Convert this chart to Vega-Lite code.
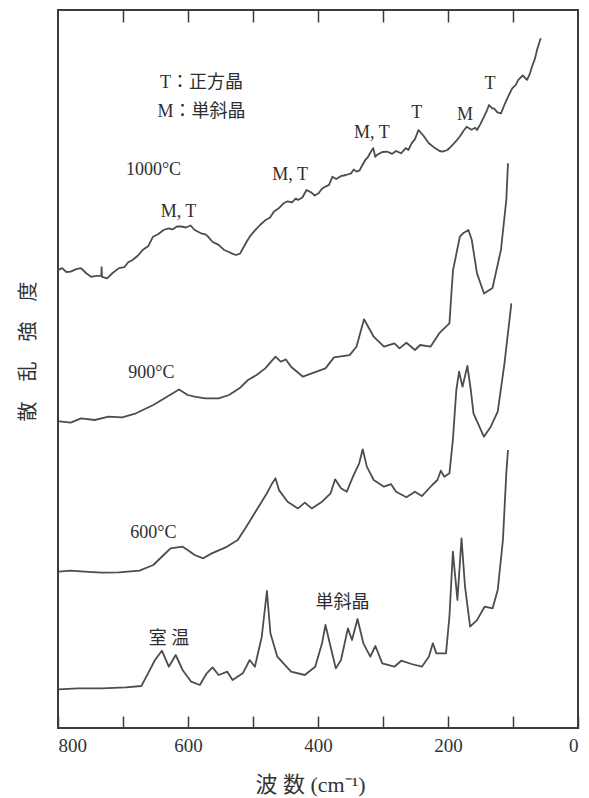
{
  "$schema": "https://vega.github.io/schema/vega-lite/v6.json",
  "width": 520,
  "height": 718,
  "autosize": {"type": "none"},
  "padding": {"left": 58, "top": 10, "right": 11, "bottom": 70},
  "background": "white",
  "config": {
    "view": {"stroke": "#3c3c3c", "strokeWidth": 2},
    "font": "Liberation Serif, Noto Sans CJK JP",
    "axis": {"labelFont": "Liberation Serif", "titleFont": "Liberation Serif, Noto Sans CJK JP"}
  },
  "datasets": {
    "spectra": [
      {"sample": "1000", "wavenumber": 800, "intensity": 457.9},
      {"sample": "1000", "wavenumber": 793.8, "intensity": 459.9},
      {"sample": "1000", "wavenumber": 787, "intensity": 456.0},
      {"sample": "1000", "wavenumber": 780.5, "intensity": 456.4},
      {"sample": "1000", "wavenumber": 772, "intensity": 458.9},
      {"sample": "1000", "wavenumber": 764.6, "intensity": 459.9},
      {"sample": "1000", "wavenumber": 757, "intensity": 455.0},
      {"sample": "1000", "wavenumber": 749.2, "intensity": 451.2},
      {"sample": "1000", "wavenumber": 741, "intensity": 452.1},
      {"sample": "1000", "wavenumber": 733.5, "intensity": 452.1},
      {"sample": "1000", "wavenumber": 732.9, "intensity": 460.8},
      {"sample": "1000", "wavenumber": 732.3, "intensity": 451.2},
      {"sample": "1000", "wavenumber": 724.6, "intensity": 449.7},
      {"sample": "1000", "wavenumber": 716, "intensity": 455.0},
      {"sample": "1000", "wavenumber": 706.2, "intensity": 459.9},
      {"sample": "1000", "wavenumber": 698, "intensity": 460.8},
      {"sample": "1000", "wavenumber": 692, "intensity": 465.7},
      {"sample": "1000", "wavenumber": 685.2, "intensity": 468.0},
      {"sample": "1000", "wavenumber": 677, "intensity": 472.5},
      {"sample": "1000", "wavenumber": 669.2, "intensity": 478.3},
      {"sample": "1000", "wavenumber": 661, "intensity": 482.1},
      {"sample": "1000", "wavenumber": 653.8, "intensity": 491.3},
      {"sample": "1000", "wavenumber": 646, "intensity": 493.7},
      {"sample": "1000", "wavenumber": 637.5, "intensity": 498.0},
      {"sample": "1000", "wavenumber": 630, "intensity": 499.6},
      {"sample": "1000", "wavenumber": 624, "intensity": 498.6},
      {"sample": "1000", "wavenumber": 617, "intensity": 501.5},
      {"sample": "1000", "wavenumber": 610.8, "intensity": 501.5},
      {"sample": "1000", "wavenumber": 603, "intensity": 500.5},
      {"sample": "1000", "wavenumber": 596, "intensity": 502.5},
      {"sample": "1000", "wavenumber": 589.8, "intensity": 498.0},
      {"sample": "1000", "wavenumber": 580, "intensity": 494.7},
      {"sample": "1000", "wavenumber": 573, "intensity": 493.7},
      {"sample": "1000", "wavenumber": 569.2, "intensity": 491.3},
      {"sample": "1000", "wavenumber": 562, "intensity": 486.0},
      {"sample": "1000", "wavenumber": 552.8, "intensity": 483.1},
      {"sample": "1000", "wavenumber": 545, "intensity": 478.3},
      {"sample": "1000", "wavenumber": 538, "intensity": 476.3},
      {"sample": "1000", "wavenumber": 532, "intensity": 474.4},
      {"sample": "1000", "wavenumber": 526.2, "intensity": 473.0},
      {"sample": "1000", "wavenumber": 520, "intensity": 474.4},
      {"sample": "1000", "wavenumber": 515.4, "intensity": 479.7},
      {"sample": "1000", "wavenumber": 510, "intensity": 486.0},
      {"sample": "1000", "wavenumber": 505.1, "intensity": 491.3},
      {"sample": "1000", "wavenumber": 497, "intensity": 497.6},
      {"sample": "1000", "wavenumber": 489.2, "intensity": 503.0},
      {"sample": "1000", "wavenumber": 480, "intensity": 508.3},
      {"sample": "1000", "wavenumber": 474, "intensity": 510.2},
      {"sample": "1000", "wavenumber": 468, "intensity": 516.3},
      {"sample": "1000", "wavenumber": 460, "intensity": 519.9},
      {"sample": "1000", "wavenumber": 453, "intensity": 524.7},
      {"sample": "1000", "wavenumber": 446.8, "intensity": 526.7},
      {"sample": "1000", "wavenumber": 440, "intensity": 525.7},
      {"sample": "1000", "wavenumber": 434, "intensity": 529.6},
      {"sample": "1000", "wavenumber": 430.8, "intensity": 528.0},
      {"sample": "1000", "wavenumber": 424, "intensity": 530.5},
      {"sample": "1000", "wavenumber": 417.7, "intensity": 538.0},
      {"sample": "1000", "wavenumber": 410, "intensity": 535.4},
      {"sample": "1000", "wavenumber": 405, "intensity": 532.5},
      {"sample": "1000", "wavenumber": 399.1, "intensity": 534.7},
      {"sample": "1000", "wavenumber": 394, "intensity": 539.2},
      {"sample": "1000", "wavenumber": 388.5, "intensity": 541.4},
      {"sample": "1000", "wavenumber": 383, "intensity": 543.1},
      {"sample": "1000", "wavenumber": 377.8, "intensity": 551.3},
      {"sample": "1000", "wavenumber": 372, "intensity": 548.9},
      {"sample": "1000", "wavenumber": 365, "intensity": 551.8},
      {"sample": "1000", "wavenumber": 356.9, "intensity": 553.0},
      {"sample": "1000", "wavenumber": 349, "intensity": 554.7},
      {"sample": "1000", "wavenumber": 345, "intensity": 558.6},
      {"sample": "1000", "wavenumber": 340.8, "intensity": 556.4},
      {"sample": "1000", "wavenumber": 336, "intensity": 557.6},
      {"sample": "1000", "wavenumber": 332.9, "intensity": 561.5},
      {"sample": "1000", "wavenumber": 328, "intensity": 567.3},
      {"sample": "1000", "wavenumber": 323, "intensity": 571.2},
      {"sample": "1000", "wavenumber": 320, "intensity": 574.7},
      {"sample": "1000", "wavenumber": 315, "intensity": 579.9},
      {"sample": "1000", "wavenumber": 312, "intensity": 571.2},
      {"sample": "1000", "wavenumber": 309.2, "intensity": 573.1},
      {"sample": "1000", "wavenumber": 301, "intensity": 576.0},
      {"sample": "1000", "wavenumber": 293.1, "intensity": 576.3},
      {"sample": "1000", "wavenumber": 286, "intensity": 574.1},
      {"sample": "1000", "wavenumber": 280, "intensity": 577.0},
      {"sample": "1000", "wavenumber": 272.3, "intensity": 574.7},
      {"sample": "1000", "wavenumber": 265, "intensity": 579.9},
      {"sample": "1000", "wavenumber": 261, "intensity": 578.0},
      {"sample": "1000", "wavenumber": 256, "intensity": 584.7},
      {"sample": "1000", "wavenumber": 251, "intensity": 588.6},
      {"sample": "1000", "wavenumber": 245.4, "intensity": 598.0},
      {"sample": "1000", "wavenumber": 238, "intensity": 592.5},
      {"sample": "1000", "wavenumber": 229.5, "intensity": 584.7},
      {"sample": "1000", "wavenumber": 220, "intensity": 579.9},
      {"sample": "1000", "wavenumber": 213, "intensity": 577.0},
      {"sample": "1000", "wavenumber": 208.3, "intensity": 576.3},
      {"sample": "1000", "wavenumber": 201, "intensity": 578.0},
      {"sample": "1000", "wavenumber": 195.4, "intensity": 581.4},
      {"sample": "1000", "wavenumber": 188, "intensity": 586.7},
      {"sample": "1000", "wavenumber": 181.8, "intensity": 591.5},
      {"sample": "1000", "wavenumber": 176, "intensity": 597.3},
      {"sample": "1000", "wavenumber": 171.2, "intensity": 601.3},
      {"sample": "1000", "wavenumber": 164, "intensity": 598.3},
      {"sample": "1000", "wavenumber": 158, "intensity": 600.2},
      {"sample": "1000", "wavenumber": 155.4, "intensity": 598.0},
      {"sample": "1000", "wavenumber": 150, "intensity": 604.1},
      {"sample": "1000", "wavenumber": 144.6, "intensity": 611.4},
      {"sample": "1000", "wavenumber": 140, "intensity": 617.7},
      {"sample": "1000", "wavenumber": 136.9, "intensity": 623.0},
      {"sample": "1000", "wavenumber": 132, "intensity": 619.6},
      {"sample": "1000", "wavenumber": 129.2, "intensity": 619.6},
      {"sample": "1000", "wavenumber": 124, "intensity": 615.7},
      {"sample": "1000", "wavenumber": 118.5, "intensity": 614.7},
      {"sample": "1000", "wavenumber": 113, "intensity": 623.5},
      {"sample": "1000", "wavenumber": 107.7, "intensity": 631.2},
      {"sample": "1000", "wavenumber": 101, "intensity": 639.9},
      {"sample": "1000", "wavenumber": 96, "intensity": 642.8},
      {"sample": "1000", "wavenumber": 91.8, "intensity": 648.1},
      {"sample": "1000", "wavenumber": 85, "intensity": 652.5},
      {"sample": "1000", "wavenumber": 78.4, "intensity": 648.1},
      {"sample": "1000", "wavenumber": 74, "intensity": 654.4},
      {"sample": "1000", "wavenumber": 70.8, "intensity": 661.3},
      {"sample": "1000", "wavenumber": 66, "intensity": 669.9},
      {"sample": "1000", "wavenumber": 63.1, "intensity": 677.9},
      {"sample": "1000", "wavenumber": 57.4, "intensity": 689.7},

      {"sample": "900", "wavenumber": 799, "intensity": 306.6},
      {"sample": "900", "wavenumber": 793.8, "intensity": 306.3},
      {"sample": "900", "wavenumber": 780.5, "intensity": 305.3},
      {"sample": "900", "wavenumber": 764.6, "intensity": 309.6},
      {"sample": "900", "wavenumber": 743.4, "intensity": 308.0},
      {"sample": "900", "wavenumber": 722.3, "intensity": 311.3},
      {"sample": "900", "wavenumber": 701.1, "intensity": 310.6},
      {"sample": "900", "wavenumber": 680, "intensity": 314.7},
      {"sample": "900", "wavenumber": 653.4, "intensity": 323.0},
      {"sample": "900", "wavenumber": 632.3, "intensity": 331.3},
      {"sample": "900", "wavenumber": 613.8, "intensity": 338.6},
      {"sample": "900", "wavenumber": 600.5, "intensity": 333.0},
      {"sample": "900", "wavenumber": 589.8, "intensity": 331.3},
      {"sample": "900", "wavenumber": 573.8, "intensity": 329.7},
      {"sample": "900", "wavenumber": 552.8, "intensity": 329.7},
      {"sample": "900", "wavenumber": 536.9, "intensity": 333.0},
      {"sample": "900", "wavenumber": 520.9, "intensity": 339.7},
      {"sample": "900", "wavenumber": 507.7, "intensity": 348.0},
      {"sample": "900", "wavenumber": 494.5, "intensity": 353.0},
      {"sample": "900", "wavenumber": 481.2, "intensity": 359.6},
      {"sample": "900", "wavenumber": 465.4, "intensity": 371.3},
      {"sample": "900", "wavenumber": 457.4, "intensity": 366.3},
      {"sample": "900", "wavenumber": 449.4, "intensity": 368.6},
      {"sample": "900", "wavenumber": 441.5, "intensity": 361.3},
      {"sample": "900", "wavenumber": 423.1, "intensity": 351.3},
      {"sample": "900", "wavenumber": 409.7, "intensity": 354.7},
      {"sample": "900", "wavenumber": 388.5, "intensity": 359.6},
      {"sample": "900", "wavenumber": 375.4, "intensity": 370.6},
      {"sample": "900", "wavenumber": 351.4, "intensity": 372.9},
      {"sample": "900", "wavenumber": 340.8, "intensity": 381.3},
      {"sample": "900", "wavenumber": 329.2, "intensity": 408.7},
      {"sample": "900", "wavenumber": 314.3, "intensity": 391.3},
      {"sample": "900", "wavenumber": 298.5, "intensity": 381.3},
      {"sample": "900", "wavenumber": 282.5, "intensity": 384.7},
      {"sample": "900", "wavenumber": 274.6, "intensity": 379.6},
      {"sample": "900", "wavenumber": 264, "intensity": 385.3},
      {"sample": "900", "wavenumber": 250.8, "intensity": 378.0},
      {"sample": "900", "wavenumber": 242.8, "intensity": 383.0},
      {"sample": "900", "wavenumber": 226.9, "intensity": 381.3},
      {"sample": "900", "wavenumber": 213.7, "intensity": 394.6},
      {"sample": "900", "wavenumber": 197.8, "intensity": 404.6},
      {"sample": "900", "wavenumber": 195.1, "intensity": 431.3},
      {"sample": "900", "wavenumber": 192.3, "intensity": 457.6},
      {"sample": "900", "wavenumber": 181.8, "intensity": 491.3},
      {"sample": "900", "wavenumber": 176.9, "intensity": 494.7},
      {"sample": "900", "wavenumber": 168.6, "intensity": 498.0},
      {"sample": "900", "wavenumber": 163.4, "intensity": 488.0},
      {"sample": "900", "wavenumber": 155.4, "intensity": 454.6},
      {"sample": "900", "wavenumber": 144.6, "intensity": 434.5},
      {"sample": "900", "wavenumber": 131.5, "intensity": 440.0},
      {"sample": "900", "wavenumber": 118.5, "intensity": 478.3},
      {"sample": "900", "wavenumber": 110.3, "intensity": 528.0},
      {"sample": "900", "wavenumber": 107.7, "intensity": 564.7},

      {"sample": "600", "wavenumber": 799.1, "intensity": 156.3},
      {"sample": "600", "wavenumber": 780.5, "intensity": 157.3},
      {"sample": "600", "wavenumber": 759.4, "intensity": 156.3},
      {"sample": "600", "wavenumber": 732.8, "intensity": 155.4},
      {"sample": "600", "wavenumber": 706.3, "intensity": 155.7},
      {"sample": "600", "wavenumber": 674.6, "intensity": 157.3},
      {"sample": "600", "wavenumber": 653.4, "intensity": 163.0},
      {"sample": "600", "wavenumber": 637.5, "intensity": 173.0},
      {"sample": "600", "wavenumber": 626.9, "intensity": 179.7},
      {"sample": "600", "wavenumber": 608.3, "intensity": 181.3},
      {"sample": "600", "wavenumber": 600.5, "intensity": 178.0},
      {"sample": "600", "wavenumber": 589.8, "intensity": 173.0},
      {"sample": "600", "wavenumber": 576.6, "intensity": 169.7},
      {"sample": "600", "wavenumber": 563.4, "intensity": 174.6},
      {"sample": "600", "wavenumber": 542.2, "intensity": 180.6},
      {"sample": "600", "wavenumber": 523.5, "intensity": 188.0},
      {"sample": "600", "wavenumber": 510.3, "intensity": 201.3},
      {"sample": "600", "wavenumber": 494.5, "intensity": 218.0},
      {"sample": "600", "wavenumber": 478.6, "intensity": 234.7},
      {"sample": "600", "wavenumber": 470.6, "intensity": 244.6},
      {"sample": "600", "wavenumber": 465.4, "intensity": 249.7},
      {"sample": "600", "wavenumber": 460, "intensity": 237.9},
      {"sample": "600", "wavenumber": 446.8, "intensity": 226.3},
      {"sample": "600", "wavenumber": 430.8, "intensity": 219.6},
      {"sample": "600", "wavenumber": 420.3, "intensity": 225.4},
      {"sample": "600", "wavenumber": 409.7, "intensity": 219.6},
      {"sample": "600", "wavenumber": 393.8, "intensity": 226.3},
      {"sample": "600", "wavenumber": 380.6, "intensity": 234.7},
      {"sample": "600", "wavenumber": 373.7, "intensity": 248.7},
      {"sample": "600", "wavenumber": 364.6, "intensity": 239.7},
      {"sample": "600", "wavenumber": 355.7, "intensity": 236.3},
      {"sample": "600", "wavenumber": 346.2, "intensity": 251.3},
      {"sample": "600", "wavenumber": 336.6, "intensity": 264.7},
      {"sample": "600", "wavenumber": 331.2, "intensity": 278.7},
      {"sample": "600", "wavenumber": 324.9, "intensity": 261.4},
      {"sample": "600", "wavenumber": 314.3, "intensity": 248.0},
      {"sample": "600", "wavenumber": 298.5, "intensity": 241.3},
      {"sample": "600", "wavenumber": 287.8, "intensity": 243.9},
      {"sample": "600", "wavenumber": 279.8, "intensity": 236.3},
      {"sample": "600", "wavenumber": 264, "intensity": 230.7},
      {"sample": "600", "wavenumber": 250.8, "intensity": 236.3},
      {"sample": "600", "wavenumber": 240.2, "intensity": 231.9},
      {"sample": "600", "wavenumber": 224.3, "intensity": 243.0},
      {"sample": "600", "wavenumber": 216.3, "intensity": 248.0},
      {"sample": "600", "wavenumber": 211.1, "intensity": 257.3},
      {"sample": "600", "wavenumber": 205.7, "intensity": 251.3},
      {"sample": "600", "wavenumber": 197.8, "intensity": 254.7},
      {"sample": "600", "wavenumber": 192.5, "intensity": 288.0},
      {"sample": "600", "wavenumber": 187.2, "intensity": 338.0},
      {"sample": "600", "wavenumber": 182.9, "intensity": 356.3},
      {"sample": "600", "wavenumber": 177.7, "intensity": 341.3},
      {"sample": "600", "wavenumber": 170.2, "intensity": 362.0},
      {"sample": "600", "wavenumber": 164.9, "intensity": 338.0},
      {"sample": "600", "wavenumber": 160.8, "intensity": 314.7},
      {"sample": "600", "wavenumber": 144.8, "intensity": 291.3},
      {"sample": "600", "wavenumber": 134.2, "intensity": 301.3},
      {"sample": "600", "wavenumber": 123.5, "intensity": 316.3},
      {"sample": "600", "wavenumber": 113.1, "intensity": 364.7},
      {"sample": "600", "wavenumber": 102.5, "intensity": 424.6},

      {"sample": "RT", "wavenumber": 799.1, "intensity": 38.6},
      {"sample": "RT", "wavenumber": 770, "intensity": 39.7},
      {"sample": "RT", "wavenumber": 732.8, "intensity": 39.7},
      {"sample": "RT", "wavenumber": 695.7, "intensity": 40.7},
      {"sample": "RT", "wavenumber": 671.8, "intensity": 42.0},
      {"sample": "RT", "wavenumber": 661.4, "intensity": 54.7},
      {"sample": "RT", "wavenumber": 650.8, "intensity": 68.0},
      {"sample": "RT", "wavenumber": 640.2, "intensity": 77.3},
      {"sample": "RT", "wavenumber": 629.5, "intensity": 61.3},
      {"sample": "RT", "wavenumber": 618.9, "intensity": 73.0},
      {"sample": "RT", "wavenumber": 608.3, "intensity": 58.0},
      {"sample": "RT", "wavenumber": 595.1, "intensity": 46.3},
      {"sample": "RT", "wavenumber": 581.8, "intensity": 43.0},
      {"sample": "RT", "wavenumber": 571.2, "intensity": 54.7},
      {"sample": "RT", "wavenumber": 562.3, "intensity": 60.6},
      {"sample": "RT", "wavenumber": 552.8, "intensity": 53.0},
      {"sample": "RT", "wavenumber": 539.5, "intensity": 56.3},
      {"sample": "RT", "wavenumber": 531.5, "intensity": 48.0},
      {"sample": "RT", "wavenumber": 515.7, "intensity": 54.7},
      {"sample": "RT", "wavenumber": 505.1, "intensity": 68.0},
      {"sample": "RT", "wavenumber": 497.1, "intensity": 61.3},
      {"sample": "RT", "wavenumber": 486.5, "intensity": 91.3},
      {"sample": "RT", "wavenumber": 478.6, "intensity": 137.0},
      {"sample": "RT", "wavenumber": 473.2, "intensity": 94.7},
      {"sample": "RT", "wavenumber": 462.6, "intensity": 71.3},
      {"sample": "RT", "wavenumber": 441.5, "intensity": 56.3},
      {"sample": "RT", "wavenumber": 420.3, "intensity": 53.0},
      {"sample": "RT", "wavenumber": 404.3, "intensity": 61.3},
      {"sample": "RT", "wavenumber": 393.8, "intensity": 84.7},
      {"sample": "RT", "wavenumber": 388.5, "intensity": 103.0},
      {"sample": "RT", "wavenumber": 380.6, "intensity": 81.3},
      {"sample": "RT", "wavenumber": 372.6, "intensity": 59.6},
      {"sample": "RT", "wavenumber": 364.6, "intensity": 68.0},
      {"sample": "RT", "wavenumber": 354, "intensity": 99.6},
      {"sample": "RT", "wavenumber": 347.7, "intensity": 88.0},
      {"sample": "RT", "wavenumber": 339.2, "intensity": 109.0},
      {"sample": "RT", "wavenumber": 330.2, "intensity": 84.7},
      {"sample": "RT", "wavenumber": 319.5, "intensity": 71.3},
      {"sample": "RT", "wavenumber": 311.7, "intensity": 82.0},
      {"sample": "RT", "wavenumber": 301.1, "intensity": 64.7},
      {"sample": "RT", "wavenumber": 282.5, "intensity": 61.3},
      {"sample": "RT", "wavenumber": 272, "intensity": 67.3},
      {"sample": "RT", "wavenumber": 256, "intensity": 64.0},
      {"sample": "RT", "wavenumber": 240.2, "intensity": 61.3},
      {"sample": "RT", "wavenumber": 229.5, "intensity": 71.3},
      {"sample": "RT", "wavenumber": 223.3, "intensity": 84.7},
      {"sample": "RT", "wavenumber": 217.9, "intensity": 74.6},
      {"sample": "RT", "wavenumber": 203.1, "intensity": 74.6},
      {"sample": "RT", "wavenumber": 197.8, "intensity": 111.3},
      {"sample": "RT", "wavenumber": 192.5, "intensity": 176.3},
      {"sample": "RT", "wavenumber": 185.5, "intensity": 128.0},
      {"sample": "RT", "wavenumber": 179.2, "intensity": 189.6},
      {"sample": "RT", "wavenumber": 173.8, "intensity": 141.3},
      {"sample": "RT", "wavenumber": 166, "intensity": 101.4},
      {"sample": "RT", "wavenumber": 155.4, "intensity": 107.9},
      {"sample": "RT", "wavenumber": 143.7, "intensity": 121.3},
      {"sample": "RT", "wavenumber": 131.5, "intensity": 119.6},
      {"sample": "RT", "wavenumber": 123.5, "intensity": 138.0},
      {"sample": "RT", "wavenumber": 115.5, "intensity": 188.0},
      {"sample": "RT", "wavenumber": 110.3, "intensity": 254.7},
      {"sample": "RT", "wavenumber": 107.7, "intensity": 278.0}
    ],
    "labels": [
      {"label": "T：正方晶", "wavenumber": 579.2, "intensity": 645},
      {"label": "M：単斜晶", "wavenumber": 579.2, "intensity": 616},
      {"label": "1000°C", "wavenumber": 653.1, "intensity": 558},
      {"label": "M, T", "wavenumber": 614.6, "intensity": 516},
      {"label": "M, T", "wavenumber": 442.8, "intensity": 553},
      {"label": "M, T", "wavenumber": 317.2, "intensity": 595},
      {"label": "T", "wavenumber": 248.1, "intensity": 615},
      {"label": "M", "wavenumber": 173.8, "intensity": 613},
      {"label": "T", "wavenumber": 135.4, "intensity": 644},
      {"label": "900°C", "wavenumber": 656.2, "intensity": 355},
      {"label": "600°C", "wavenumber": 653.2, "intensity": 195},
      {"label": "室 温", "wavenumber": 629.4, "intensity": 89},
      {"label": "単斜晶", "wavenumber": 362.3, "intensity": 125}
    ]
  },
  "resolve": {"axis": {"x": "independent"}},
  "layer": [
    {
      "data": {"name": "spectra"},
      "mark": {"type": "line", "stroke": "#4d4d4d", "strokeWidth": 1.8, "strokeJoin": "round"},
      "encoding": {
        "x": {
          "field": "wavenumber", "type": "quantitative",
          "scale": {"domain": [0, 800], "reverse": true, "nice": false, "zero": false},
          "axis": {
            "orient": "bottom",
            "values": [0, 100, 200, 300, 400, 500, 600, 700, 800],
            "labelExpr": "datum.value % 200 === 0 ? datum.label : ''",
            "tickSize": -12, "tickWidth": 1.5, "tickColor": "#3c3c3c",
            "labelPadding": 20, "labelFontSize": 19, "labelColor": "#333333",
            "labelFont": "Liberation Serif",
            "domain": false, "grid": false,
            "title": "波 数 (cm⁻¹)", "titleFontSize": 22, "titleFontWeight": "normal",
            "titleColor": "#333333", "titlePadding": 19, "titleX": 252,
            "titleFont": "Liberation Serif, Noto Sans CJK JP"
          }
        },
        "y": {
          "field": "intensity", "type": "quantitative",
          "scale": {"domain": [0, 718], "nice": false},
          "axis": {
            "ticks": false, "labels": false, "domain": false, "grid": false,
            "title": "散　乱　強　度", "titleFontSize": 20, "titleFontWeight": "normal",
            "titleColor": "#333333", "titlePadding": 20, "titleY": 341,
            "titleFont": "Noto Sans CJK JP"
          }
        },
        "detail": {"field": "sample", "type": "nominal"}
      }
    },
    {
      "data": {"name": "labels"},
      "mark": {"type": "text", "fontSize": 18, "color": "#2e2e2e", "baseline": "middle", "align": "center", "font": "Liberation Serif, Noto Sans CJK JP"},
      "encoding": {
        "x": {
          "field": "wavenumber", "type": "quantitative",
          "axis": {
            "orient": "top",
            "values": [100, 200, 300, 400, 500, 600, 700],
            "tickSize": -12, "tickWidth": 1.5, "tickColor": "#3c3c3c",
            "labels": false, "domain": false, "grid": false, "title": null
          }
        },
        "y": {
          "field": "intensity", "type": "quantitative",
          "axis": {
            "ticks": false, "labels": false, "domain": false, "grid": false,
            "title": "散　乱　強　度", "titleFontSize": 20, "titleFontWeight": "normal",
            "titleColor": "#333333", "titlePadding": 20, "titleY": 341,
            "titleFont": "Noto Sans CJK JP"
          }
        },
        "text": {"field": "label", "type": "nominal"}
      }
    }
  ]
}
